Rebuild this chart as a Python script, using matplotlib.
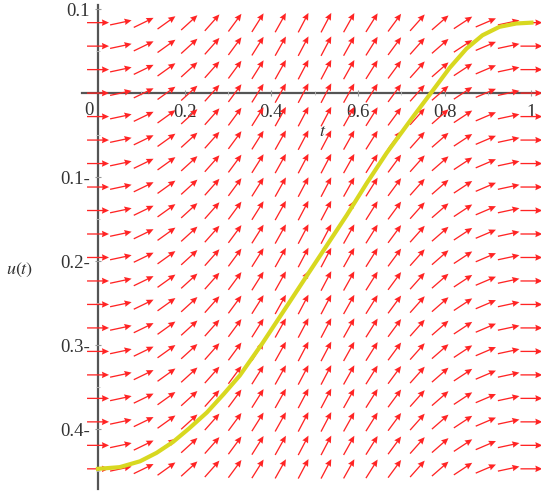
import numpy as np
import matplotlib.pyplot as plt

plt.rcParams['font.family'] = ['Liberation Serif', 'DejaVu Serif']
plt.rcParams['mathtext.fontset'] = 'stix'

# Direction field: one slope du/dt per column of arrows
field_t = np.linspace(0.0, 1.0, 20)
field_u = np.linspace(-0.447, 0.084, 20)
field_slope = [0.0, 0.11, 0.25, 0.37, 0.47, 0.58, 0.70, 0.82, 0.92, 0.98,
               0.98, 0.92, 0.82, 0.70, 0.58, 0.45, 0.34, 0.22, 0.11, 0.0]

# Solution curve u(t)
curve_t = [0.0, 0.05, 0.097, 0.135, 0.173, 0.21, 0.251, 0.29, 0.327, 0.380,
           0.426, 0.482, 0.528, 0.574, 0.620, 0.666, 0.724, 0.772, 0.811, 0.850,
           0.887, 0.926, 0.965, 1.0]
curve_u = [-0.447, -0.445, -0.438, -0.428, -0.415, -0.399, -0.380, -0.358, -0.336, -0.297,
           -0.261, -0.217, -0.181, -0.145, -0.107, -0.071, -0.030, 0.003, 0.030, 0.053,
           0.069, 0.079, 0.083, 0.084]

# Axis ticks
xtick_vals = [0.2, 0.4, 0.6, 0.8, 1.0]
xtick_text = ['0.2', '0.4', '0.6', '0.8', '1']
ytick_vals = [-0.4, -0.3, -0.2, -0.1, 0.1]
ytick_text = ['0.4-', '0.3-', '0.2-', '0.1-', '0.1']
xminor_vals = [0.1, 0.3, 0.5, 0.7, 0.9]
yminor_vals = [-0.45, -0.35, -0.25, -0.15, -0.05, 0.05]

fig = plt.figure(figsize=(5.41, 4.91), dpi=100)
ax = fig.add_axes([82 / 541, 2 / 491, 459 / 541, 484 / 491])
ax.set_xlim(-0.037, 1.022)
ax.set_ylim(-0.471, 0.105)

# arrows of constant screen length, direction follows the slope in screen space
p0 = ax.transData.transform((0, 0))
p1 = ax.transData.transform((1, 1))
sx, sy = p1[0] - p0[0], p1[1] - p0[1]
T, U = np.meshgrid(field_t, field_u)
S = np.broadcast_to(np.array(field_slope), T.shape)
ang = np.arctan(S * sy / sx)
ax.quiver(T, U, np.cos(ang), np.sin(ang), angles='uv', scale_units='dots',
          scale=1 / 22, pivot='middle', units='dots', width=1.3,
          headwidth=5, headlength=5.5, headaxislength=5,
          color='#ff2424', zorder=2)

ax.plot(curve_t, curve_u, color='#d8d820', lw=3, zorder=3,
        solid_joinstyle='round')

# Maple style axes through the origin
for s in ['top', 'right']:
    ax.spines[s].set_visible(False)
for s in ['left', 'bottom']:
    ax.spines[s].set_position(('data', 0))
    ax.spines[s].set_color('#555555')
    ax.spines[s].set_linewidth(1.6)
    ax.spines[s].set_zorder(1)

ax.set_xticks(xtick_vals, xtick_text)
ax.set_yticks(ytick_vals, ytick_text)
ax.set_xticks(xminor_vals, minor=True)
ax.set_yticks(yminor_vals, minor=True)
ax.tick_params(which='major', direction='inout', length=4, width=0.8,
               color='#999999', labelsize=13.5, labelcolor='#333333')
ax.tick_params(axis='x', which='major', pad=6)
ax.tick_params(axis='y', which='major', pad=4)
ax.tick_params(which='minor', direction='inout', length=2.5, width=0.6,
               color='#bbbbbb')

ax.text(-0.021, -0.021, '0', ha='center', va='center', fontsize=13.5, color='#333333')
ax.text(0.518, -0.046, '$t$', ha='center', va='center', fontsize=13, color='#333333')
fig.text(20 / 541, 1 - 270 / 491, '$u(t)$', ha='center', va='center',
         fontsize=13, color='#333333')

fig.savefig('out.png', dpi=100)
